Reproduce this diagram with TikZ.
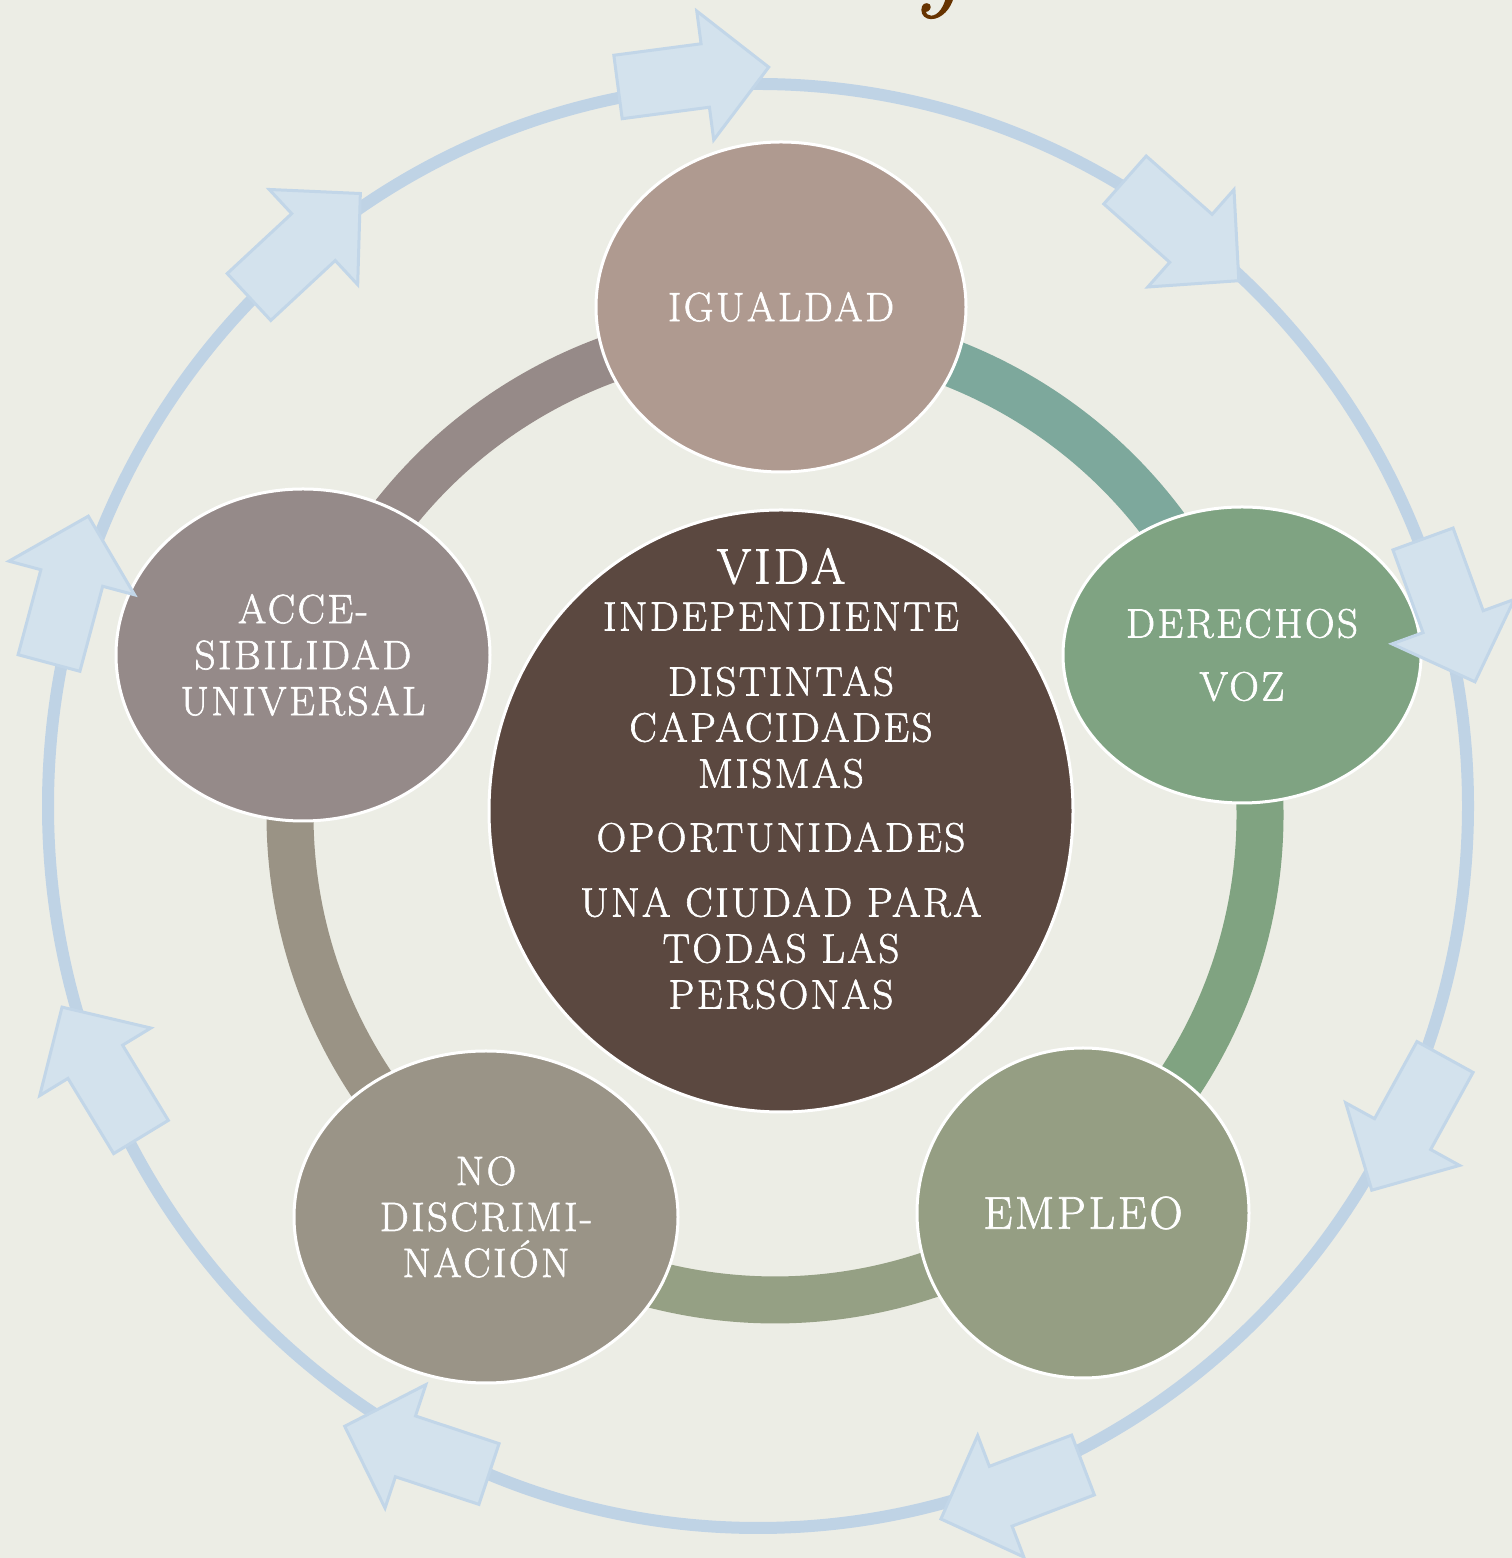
\documentclass[tikz,border=0pt]{standalone}
\usepackage{fontspec}
\setmainfont{Latin Modern Roman}[LetterSpace=6,FakeBold=1.5]
\usetikzlibrary{shapes.geometric}
\definecolor{bg}{HTML}{ECEDE5}
\definecolor{ringblue}{HTML}{BFD3E5}
\definecolor{arrfill}{HTML}{D3E2ED}
\definecolor{arrdraw}{HTML}{C2D6E8}
\definecolor{cIg}{HTML}{AF9A90}
\definecolor{cDe}{HTML}{7FA382}
\definecolor{cEm}{HTML}{959E83}
\definecolor{cNo}{HTML}{9A9487}
\definecolor{cAc}{HTML}{958A89}
\definecolor{cCe}{HTML}{5B4840}
\definecolor{aTL}{HTML}{968A88}
\definecolor{aTR}{HTML}{7DA89C}
\definecolor{aR}{HTML}{80A381}
\definecolor{aB}{HTML}{95A084}
\definecolor{aL}{HTML}{9A9385}
\definecolor{title}{HTML}{663300}
\newcommand\blockarrow[3]{%
  \begin{scope}[shift={(#1,#2)},rotate=#3]
    \draw[barrow] (0,-32)--(88,-32)--(88,-65)--(152,0)--(88,65)--(88,32)--(0,32)--cycle;
  \end{scope}}
\begin{document}
\begin{tikzpicture}[x=1pt,y=1pt,
  outerring/.style={draw=ringblue,line width=12pt},
  band/.style={line width=47pt},
  barrow/.style={fill=arrfill,draw=arrdraw,line width=3pt,line join=miter},
  sat/.style={ellipse,draw=white,line width=3pt,text=white,inner sep=0pt,align=center,
    font=\fontsize{41}{46}\selectfont},
  ctext/.style={text=white,inner sep=0pt,align=center,font=\fontsize{41}{46}\selectfont}]
\useasboundingbox (0,0) rectangle (1512,1558);
\fill[bg] (0,0) rectangle (1512,1558);
\begin{scope}
  \clip (0,0) rectangle (1512,1558);
  \node[text=title,inner sep=0pt,anchor=base west,font=\fontsize{100}{100}\selectfont\itshape] (ty) at (912,1560) {y};
\end{scope}
% outer ring
\coordinate (oc) at (758,752);
\draw[outerring] (oc) ellipse [x radius=710, y radius=722];
% inner ring bands
\coordinate (rc) at (775,743);
\draw[band,aTL] (rc) ++(161.3:485) arc[start angle=161.3,end angle=89.3,radius=485];
\draw[band,aTR] (rc) ++(89.3:485) arc[start angle=89.3,end angle=18.9,radius=485];
\draw[band,aR]  (rc) ++(18.9:485) arc[start angle=18.9,end angle=-52.3,radius=485];
\draw[band,aB]  (rc) ++(-52.3:485) arc[start angle=-52.3,end angle=-125.7,radius=485];
\draw[band,aL]  (rc) ++(-125.7:485) arc[start angle=-125.7,end angle=-198.7,radius=485];
% satellites
\node[sat,fill=cIg,minimum width=370pt,minimum height=330pt] (ig) at (781,1251) {IGUALDAD};
\node[sat,fill=cDe,minimum width=358pt,minimum height=296pt] (de) at (1242,903) {DERECHOS\\[17pt]VOZ};
\node[sat,fill=cEm,minimum width=332pt,minimum height=330pt,font=\fontsize{46}{50}\selectfont] (em) at (1083,345) {EMPLEO};
\node[sat,fill=cNo,minimum width=384pt,minimum height=332pt] (no) at (486,341) {NO\\DISCRIMI-\\NACIÓN};
\node[sat,fill=cAc,minimum width=374pt,minimum height=332pt] (ac) at (303,903) {ACCE-\\SIBILIDAD\\UNIVERSAL};
% centre
\node[ellipse,draw=white,line width=3pt,fill=cCe,minimum width=584pt,minimum height=602pt] (ce) at (781,747) {};
\node[ctext,anchor=north] (cet) at (781,1010) {{\fontsize{50}{50}\selectfont VIDA}\\[1pt]
  INDEPENDIENTE\\[19pt]
  DISTINTAS\\CAPACIDADES\\MISMAS\\[18pt]
  OPORTUNIDADES\\[19pt]
  UNA CIUDAD PARA\\TODAS LAS\\PERSONAS};
% arrows on the outer ring
\blockarrow{618}{1471}{7.5}
\blockarrow{1125}{1378}{-41.5}
\blockarrow{1423}{1019}{-70.0}
\blockarrow{1445}{501}{-118.8}
\blockarrow{1083}{93}{-159.2}
\blockarrow{489}{84}{161.7}
\blockarrow{141}{421}{121.3}
\blockarrow{49}{895}{75.0}
\blockarrow{249}{1261}{42.9}
\end{tikzpicture}
\end{document}
